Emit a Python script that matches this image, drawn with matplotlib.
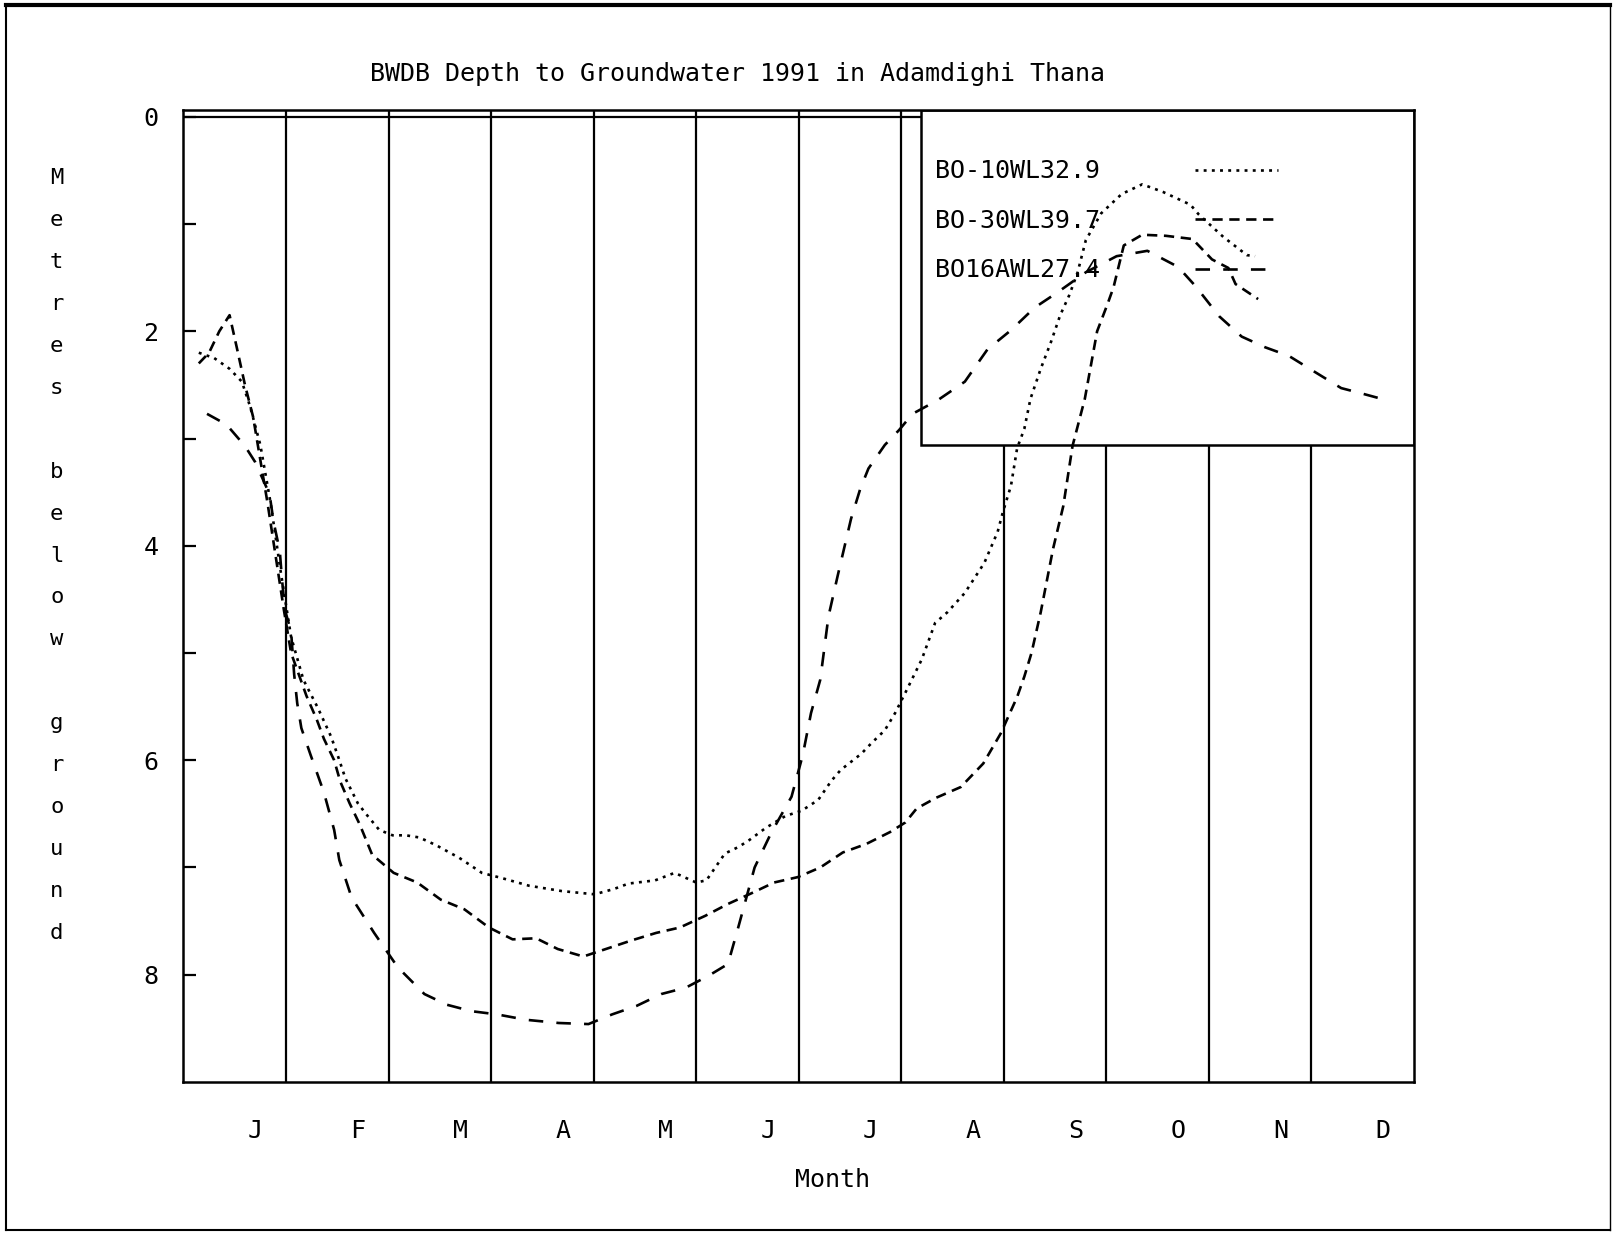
import numpy as np
import matplotlib
matplotlib.use("Agg")
import matplotlib.pyplot as plt
from matplotlib.patches import Rectangle
from matplotlib.lines import Line2D

# ---------------- data ----------------
title = "BWDB Depth to Groundwater 1991 in Adamdighi Thana"
y_label = "Metres below ground"
x_label = "Month"
month_labels = ["J", "F", "M", "A", "M", "J", "J", "A", "S", "O", "N", "D"]
series_names = ["BO-10WL32.9", "BO-30WL39.7", "BO16AWL27.4"]
y_ticks = [0, 2, 4, 6, 8]

# time in months since 1 Jan (0..12), depth in metres below ground
bo10_month = [0.15, 0.30, 0.45, 0.57, 0.65, 0.75, 0.85, 0.95, 1.05, 1.17, 1.31, 1.44,
              1.51, 1.58, 1.70, 1.78, 1.91, 2.04, 2.17, 2.30, 2.46, 2.69, 2.91, 3.11,
              3.37, 3.69, 4.01, 4.20, 4.34, 4.60, 4.79, 5.00, 5.10, 5.28, 5.41, 5.51,
              5.68, 5.87, 6.03, 6.19, 6.32, 6.41, 6.61, 6.71, 6.84, 6.94, 7.04, 7.20,
              7.33, 7.45, 7.62, 7.81, 7.94, 7.99, 8.07, 8.13, 8.20, 8.26, 8.36, 8.46,
              8.55, 8.64, 8.72, 8.80, 8.95, 9.15, 9.35, 9.55, 9.82, 9.90, 10.14, 10.37,
              10.45]
bo10_depth = [2.20, 2.25, 2.35, 2.47, 2.70, 3.06, 3.60, 4.25, 4.85, 5.25, 5.51, 5.78,
              5.97, 6.17, 6.40, 6.50, 6.65, 6.70, 6.70, 6.72, 6.79, 6.91, 7.05, 7.10,
              7.17, 7.22, 7.25, 7.20, 7.15, 7.12, 7.05, 7.14, 7.12, 6.87, 6.81, 6.75,
              6.63, 6.52, 6.47, 6.37, 6.19, 6.09, 5.94, 5.84, 5.72, 5.56, 5.37, 5.06,
              4.72, 4.62, 4.44, 4.16, 3.87, 3.69, 3.44, 3.09, 2.91, 2.63, 2.35, 2.10,
              1.85, 1.66, 1.45, 1.15, 0.90, 0.72, 0.63, 0.70, 0.82, 0.91, 1.12, 1.29,
              1.30]

bo30_month = [0.15, 0.25, 0.35, 0.45, 0.52, 0.60, 0.68, 0.75, 0.82, 0.90, 0.98, 1.05,
              1.20, 1.30, 1.37, 1.47, 1.53, 1.62, 1.72, 1.84, 2.05, 2.28, 2.51, 2.74,
              2.98, 3.21, 3.44, 3.65, 3.90, 4.12, 4.37, 4.61, 4.84, 5.09, 5.31, 5.54,
              5.76, 5.99, 6.21, 6.43, 6.66, 6.89, 7.04, 7.15, 7.34, 7.58, 7.80, 7.97,
              8.13, 8.20, 8.27, 8.36, 8.48, 8.58, 8.67, 8.79, 8.91, 9.01, 9.07, 9.17,
              9.35, 9.58, 9.84, 10.03, 10.19, 10.26, 10.48]
bo30_depth = [2.30, 2.20, 2.00, 1.85, 2.15, 2.50, 2.80, 3.20, 3.60, 4.10, 4.60, 5.00,
              5.40, 5.62, 5.80, 6.00, 6.20, 6.40, 6.60, 6.88, 7.05, 7.14, 7.30, 7.39,
              7.56, 7.67, 7.66, 7.76, 7.83, 7.76, 7.68, 7.61, 7.56, 7.45, 7.34, 7.24,
              7.14, 7.09, 7.00, 6.86, 6.78, 6.67, 6.58, 6.45, 6.35, 6.25, 6.03, 5.75,
              5.41, 5.22, 5.00, 4.62, 4.03, 3.63, 3.07, 2.63, 2.00, 1.75, 1.59, 1.20,
              1.10, 1.11, 1.14, 1.33, 1.41, 1.56, 1.70]

bo16_month = [0.23, 0.42, 0.60, 0.70, 0.84, 0.88, 0.94, 0.96, 0.99, 1.05, 1.08, 1.11,
              1.15, 1.24, 1.37, 1.47, 1.52, 1.64, 1.86, 2.09, 2.35, 2.57, 2.81, 3.06,
              3.34, 3.66, 3.95, 4.18, 4.42, 4.66, 4.90, 5.12, 5.31, 5.41, 5.57, 5.73,
              5.93, 6.04, 6.12, 6.21, 6.29, 6.38, 6.51, 6.60, 6.68, 6.84, 6.98, 7.11,
              7.36, 7.62, 7.84, 8.07, 8.30, 8.52, 8.80, 9.10, 9.40, 9.70, 9.87, 10.10,
              10.32, 10.55, 10.78, 11.00, 11.29, 11.49, 11.76]
bo16_depth = [2.77, 2.87, 3.07, 3.22, 3.52, 3.78, 4.05, 4.30, 4.60, 4.80, 5.20, 5.47,
              5.70, 5.95, 6.30, 6.65, 6.93, 7.28, 7.61, 7.93, 8.18, 8.28, 8.34, 8.37,
              8.42, 8.45, 8.46, 8.37, 8.29, 8.18, 8.12, 8.01, 7.90, 7.56, 7.00, 6.68,
              6.34, 5.95, 5.56, 5.25, 4.66, 4.28, 3.75, 3.47, 3.28, 3.06, 2.92, 2.77,
              2.64, 2.47, 2.17, 1.99, 1.78, 1.64, 1.45, 1.30, 1.25, 1.40, 1.58, 1.86,
              2.05, 2.15, 2.23, 2.36, 2.53, 2.58, 2.65]

# ---------------- figure ----------------
FONT = ["DejaVu Sans Mono", "DejaVu Sans"]
plt.rcParams["font.family"] = FONT
FS = 18

fig = plt.figure(figsize=(16.16, 12.35), dpi=100)
fig.patch.set_facecolor("white")
ax = fig.add_axes([0.1135, 0.1239, 0.875 - 0.1135, 0.9111 - 0.1239])

n_months = len(month_labels)
ax.set_xlim(0, n_months)
ax.set_ylim(9.0, -0.065)

# month separator lines and zero line
ax.vlines(np.arange(1, n_months), 9.0, -0.065, colors="black", lw=1.6, zorder=1)
ax.axhline(0, color="black", lw=1.6, zorder=1)

# legend box (opaque for grid lines, curves drawn over it)
box_left, box_bottom = 7.19, 3.06
ax.add_patch(Rectangle((box_left, -0.065), n_months - box_left, box_bottom + 0.065,
                       facecolor="white", edgecolor="black", lw=1.8, zorder=2))

lw = 1.9
styles = [
    (0, (1.1, 2.0)),     # dotted
    (0, (3.9, 2.5)),     # medium dash
    (0, (5.5, 5.0)),     # long dash
]
months_all = [bo10_month, bo30_month, bo16_month]
depth_all = [bo10_depth, bo30_depth, bo16_depth]
handles = []
for m, d, ls, name in zip(months_all, depth_all, styles, series_names):
    ln, = ax.plot(m, d, color="black", lw=lw, linestyle=ls, zorder=3, label=name)
    handles.append(ln)

leg = ax.legend(handles=handles, labels=series_names, loc="upper left",
                bbox_to_anchor=(0.611, 0.949), frameon=False, markerfirst=False,
                borderpad=0, borderaxespad=0, handlelength=3.3, handletextpad=3.8,
                labelspacing=1.02, prop={"family": FONT, "size": FS})
leg.set_zorder(5)

# axes ticks
ax.set_xticks(np.arange(n_months) + 0.7, labels=month_labels)
ax.tick_params(axis="x", length=0, pad=27, labelsize=FS)
ax.set_yticks(y_ticks)
ax.set_yticks([1, 3, 5, 7], minor=True)
ax.tick_params(axis="y", which="both", direction="in", length=9, width=1.6,
               pad=18, labelsize=FS)
for sp in ax.spines.values():
    sp.set_linewidth(1.8)
    sp.set_zorder(4)

ax.set_xlabel(x_label, fontsize=FS, va="center")
ax.xaxis.set_label_coords(0.5276, -0.101)

ax.set_title(title, fontsize=FS, x=0.45, y=1.037, va="center", pad=0)

# stacked vertical y-label
fig.text(0.0351, 0.5502, "\n".join(list(y_label)), fontsize=16, ha="center",
         va="center", multialignment="center", linespacing=2.37)

# page border
border = dict(transform=fig.transFigure, color="black")
fig.add_artist(Line2D([0.004, 0.996], [0.996, 0.996], lw=3.0, **border))
fig.add_artist(Line2D([0.004, 0.004], [0.004, 0.996], lw=1.5, **border))
fig.add_artist(Line2D([0.004, 0.996], [0.004, 0.004], lw=1.5, **border))
fig.add_artist(Line2D([0.996, 0.996], [0.004, 0.996], lw=1.0, **border))

fig.savefig("out.png", dpi=100, facecolor="white")
